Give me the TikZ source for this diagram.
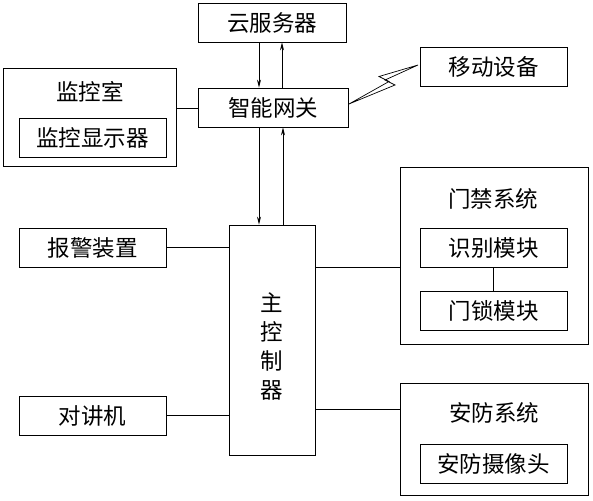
\documentclass[tikz,border=0pt]{standalone}
\usepackage{fontspec}
\newfontfamily\cjk{Noto Sans CJK SC}
\usetikzlibrary{arrows.meta}
\begin{document}
\begin{tikzpicture}[x=1pt,y=-1pt,
  every node/.style={font=\cjk\fontsize{22.5}{29}\selectfont},
  box/.style={draw,line width=0.8pt,inner sep=0pt,minimum width=147pt,minimum height=39pt},
  grp/.style={draw,line width=0.8pt,inner sep=0pt},
  ttl/.style={inner sep=0pt},
  ln/.style={line width=0.8pt},
  arr/.style={line width=0.8pt,-{Stealth[length=8pt,width=4pt]}}]
\useasboundingbox (0,0) rectangle (593,500);
% top
\node[box,minimum width=148pt] (cloud) at (272,22.5) {云服务器};
\node[box,minimum width=150pt] (gw) at (273,107.5) {智能网关};
\node[box] (mobile) at (493.5,67) {移动设备};
% monitor room
\node[grp,minimum width=173pt,minimum height=98pt] (mon) at (89.5,117) {};
\node[ttl] (monT) at (90,92) {监控室};
\node[box] (disp) at (92.5,137.5) {监控显示器};
% left devices
\node[box] (alarm) at (92.5,247.5) {报警装置};
\node[box] (talk) at (92.5,415.5) {对讲机};
% main controller
\node[grp,minimum width=86pt,minimum height=230pt] (main) at (272,340) {};
\node[ttl,align=center] (mainT) at (272,346) {主\\控\\制\\器};
% access control
\node[grp,minimum width=188pt,minimum height=177pt] (acc) at (494,255.5) {};
\node[ttl] (accT) at (493,199) {门禁系统};
\node[box] (ident) at (493.5,247.5) {识别模块};
\node[box] (lock) at (493.5,310.5) {门锁模块};
% security
\node[grp,minimum width=188pt,minimum height=112pt] (sec) at (494,439) {};
\node[ttl] (secT) at (494,413) {安防系统};
\node[box] (cam) at (493.5,463.5) {安防摄像头};
% connectors
\draw[arr] ([xshift=-13pt]cloud.south) -- ([xshift=-13pt]cloud.south |- gw.north);
\draw[arr] ([xshift=10pt]cloud.south |- gw.north) -- ([xshift=10pt]cloud.south);
\draw[arr] ([xshift=-13pt]main.north |- gw.south) -- ([xshift=-13pt]main.north);
\draw[arr] ([xshift=11pt]main.north) -- ([xshift=11pt]main.north |- gw.south);
\draw[ln] ([yshift=9pt]mon.east) -- ([yshift=9pt]mon.east -| gw.west);
\draw[ln] (alarm.east) -- (alarm.east -| main.west);
\draw[ln] (talk.east) -- (talk.east -| main.west);
\draw[ln] ([yshift=-11.5pt]acc.west) -- ([yshift=-11.5pt]acc.west -| main.east);
\draw[ln] ([yshift=30pt]sec.west) -- ([yshift=30pt]sec.west -| main.east);
\draw[ln] (ident.south) -- (lock.north);
% lightning
\draw[line width=0.7pt,fill=white,line join=miter]
  (349,104) -- (395,85) -- (385,80) -- (418,65) -- (379,76.5) -- (389,81.5) -- cycle;
\end{tikzpicture}
\end{document}
